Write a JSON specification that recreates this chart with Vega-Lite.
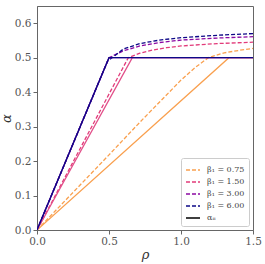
{
  "$schema": "https://vega.github.io/schema/vega-lite/v6.json",
  "width": 216,
  "height": 224,
  "autosize": "none",
  "padding": {"left": 37, "top": 6, "right": 12, "bottom": 34},
  "config": {
    "view": {"stroke": "#666", "strokeWidth": 1},
    "font": "DejaVu Serif",
    "axis": {"domainColor": "#666", "tickColor": "#666", "labelColor": "#555", "titleColor": "#333", "labelFont": "DejaVu Serif", "labelFontSize": 10.5, "grid": false, "tickSize": 4, "labelOverlap": false, "labelFlush": false, "titleFont": "DejaVu Serif", "titleFontWeight": "normal", "titleFontStyle": "italic", "titleFontSize": 13},
    "legend": {"orient": "bottom-right", "offset": 4, "fillColor": "white", "strokeColor": "#ccc", "cornerRadius": 2, "padding": 4, "labelFont": "DejaVu Serif", "labelFontSize": 8, "labelColor": "#444", "symbolType": "stroke", "symbolSize": 196, "symbolStrokeWidth": 1.3, "rowPadding": 0, "labelOffset": 6}
  },
  "datasets": {
    "dashed": [
      {"rho": 0, "alpha": 0, "beta": "β₁ = 0.75"},
      {"rho": 0.5, "alpha": 0.218, "beta": "β₁ = 0.75"},
      {"rho": 0.715, "alpha": 0.313, "beta": "β₁ = 0.75"},
      {"rho": 1.0, "alpha": 0.435, "beta": "β₁ = 0.75"},
      {"rho": 1.1, "alpha": 0.472, "beta": "β₁ = 0.75"},
      {"rho": 1.19, "alpha": 0.5, "beta": "β₁ = 0.75"},
      {"rho": 1.3, "alpha": 0.514, "beta": "β₁ = 0.75"},
      {"rho": 1.4, "alpha": 0.521, "beta": "β₁ = 0.75"},
      {"rho": 1.5, "alpha": 0.527, "beta": "β₁ = 0.75"},
      {"rho": 0, "alpha": 0, "beta": "β₁ = 1.50"},
      {"rho": 0.634, "alpha": 0.5, "beta": "β₁ = 1.50"},
      {"rho": 0.715, "alpha": 0.513, "beta": "β₁ = 1.50"},
      {"rho": 0.8, "alpha": 0.522, "beta": "β₁ = 1.50"},
      {"rho": 0.9, "alpha": 0.529, "beta": "β₁ = 1.50"},
      {"rho": 1.0, "alpha": 0.534, "beta": "β₁ = 1.50"},
      {"rho": 1.25, "alpha": 0.541, "beta": "β₁ = 1.50"},
      {"rho": 1.5, "alpha": 0.545, "beta": "β₁ = 1.50"},
      {"rho": 0, "alpha": 0, "beta": "β₁ = 3.00"},
      {"rho": 0.5, "alpha": 0.5, "beta": "β₁ = 3.00"},
      {"rho": 0.6, "alpha": 0.52, "beta": "β₁ = 3.00"},
      {"rho": 0.715, "alpha": 0.534, "beta": "β₁ = 3.00"},
      {"rho": 0.85, "alpha": 0.544, "beta": "β₁ = 3.00"},
      {"rho": 1.0, "alpha": 0.551, "beta": "β₁ = 3.00"},
      {"rho": 1.25, "alpha": 0.557, "beta": "β₁ = 3.00"},
      {"rho": 1.5, "alpha": 0.561, "beta": "β₁ = 3.00"},
      {"rho": 0, "alpha": 0, "beta": "β₁ = 6.00"},
      {"rho": 0.49, "alpha": 0.49, "beta": "β₁ = 6.00"},
      {"rho": 0.6, "alpha": 0.525, "beta": "β₁ = 6.00"},
      {"rho": 0.715, "alpha": 0.541, "beta": "β₁ = 6.00"},
      {"rho": 0.85, "alpha": 0.551, "beta": "β₁ = 6.00"},
      {"rho": 1.0, "alpha": 0.558, "beta": "β₁ = 6.00"},
      {"rho": 1.25, "alpha": 0.565, "beta": "β₁ = 6.00"},
      {"rho": 1.5, "alpha": 0.57, "beta": "β₁ = 6.00"}
    ],
    "solid": [
      {"rho": 0, "alpha": 0, "beta": "0.75"},
      {"rho": 1.333, "alpha": 0.5, "beta": "0.75"},
      {"rho": 1.5, "alpha": 0.5, "beta": "0.75"},
      {"rho": 0, "alpha": 0, "beta": "1.50"},
      {"rho": 0.662, "alpha": 0.5, "beta": "1.50"},
      {"rho": 1.5, "alpha": 0.5, "beta": "1.50"},
      {"rho": 0, "alpha": 0, "beta": "3.00"},
      {"rho": 0.5, "alpha": 0.5, "beta": "3.00"},
      {"rho": 1.5, "alpha": 0.5, "beta": "3.00"},
      {"rho": 0, "alpha": 0, "beta": "6.00"},
      {"rho": 0.5, "alpha": 0.5, "beta": "6.00"},
      {"rho": 1.5, "alpha": 0.5, "beta": "6.00"}
    ]
  },
  "encoding": {
    "x": {"field": "rho", "type": "quantitative", "scale": {"domain": [0, 1.5], "nice": false}, "axis": {"values": [0, 0.5, 1.0, 1.5], "format": ".1f", "title": "ρ", "titlePadding": 2}},
    "y": {"field": "alpha", "type": "quantitative", "scale": {"domain": [0, 0.65], "nice": false}, "axis": {"values": [0, 0.1, 0.2, 0.3, 0.4, 0.5, 0.6], "format": ".1f", "title": "α", "titlePadding": 1}},
    "order": {"field": "rho", "type": "quantitative"}
  },
  "layer": [
    {
      "data": {"name": "dashed"},
      "mark": {"type": "line", "strokeWidth": 1.3, "clip": true},
      "encoding": {
        "color": {"field": "beta", "type": "nominal", "scale": {"domain": ["β₁ = 0.75", "β₁ = 1.50", "β₁ = 3.00", "β₁ = 6.00", "αᵢᵢ"], "range": ["#f9a04f", "#e23b7a", "#8c0aa3", "#0d0887", "#000000"]}, "legend": {"title": null}},
        "strokeDash": {"field": "beta", "type": "nominal", "scale": {"domain": ["β₁ = 0.75", "β₁ = 1.50", "β₁ = 3.00", "β₁ = 6.00", "αᵢᵢ"], "range": [[4, 2], [4, 2], [4, 2], [4, 2], [1, 0]]}, "legend": {"title": null}}
      }
    },
    {
      "data": {"name": "solid"},
      "mark": {"type": "line", "strokeWidth": 1.3, "clip": true},
      "encoding": {
        "stroke": {"field": "beta", "type": "nominal", "scale": {"domain": ["0.75", "1.50", "3.00", "6.00"], "range": ["#f9a04f", "#e2508a", "#8c0aa3", "#0d0887"]}, "legend": null}
      }
    }
  ]
}
